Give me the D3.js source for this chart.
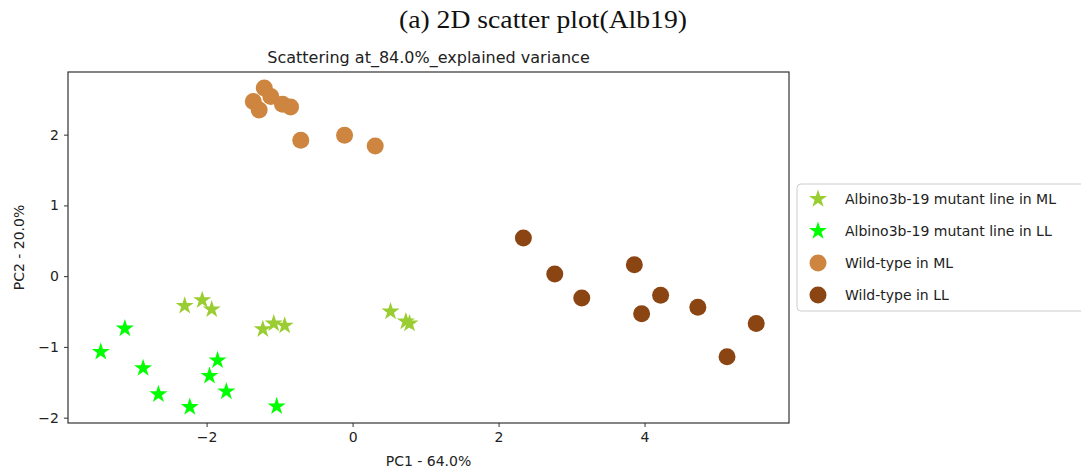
<!DOCTYPE html>
<html>
<head>
<meta charset="utf-8">
<script src="https://cdn.jsdelivr.net/npm/d3@7"></script>
<style>
  html, body { margin: 0; padding: 0; background: #fff; }
  svg { display: block; }
</style>
</head>
<body>
<svg id="chart" width="1081" height="472"></svg>
<script>
// PCA scores per group: [PC1, PC2]
const albinoML = [
  [-2.30, -0.42], [-2.06, -0.34], [-1.93, -0.47], [-1.23, -0.75], [-1.08, -0.67],
  [-0.93, -0.70], [0.52, -0.50], [0.73, -0.64], [0.78, -0.67]
];
const albinoLL = [
  [-3.12, -0.74], [-3.45, -1.07], [-2.87, -1.30], [-2.66, -1.67], [-2.23, -1.85],
  [-1.85, -1.19], [-1.96, -1.41], [-1.73, -1.63], [-1.04, -1.84]
];
const wildML = [
  [-1.36, 2.47], [-1.21, 2.66], [-1.12, 2.54], [-1.28, 2.35], [-0.96, 2.43],
  [-0.85, 2.39], [-0.71, 1.92], [-0.11, 1.99], [0.31, 1.84]
];
const wildLL = [
  [2.34, 0.54], [2.77, 0.03], [3.14, -0.31], [3.86, 0.16], [3.96, -0.53],
  [4.22, -0.27], [4.73, -0.44], [5.13, -1.14], [5.53, -0.67]
];
const seriesNames = [
  "Albino3b-19 mutant line in ML",
  "Albino3b-19 mutant line in LL",
  "Wild-type in ML",
  "Wild-type in LL"
];
const xTicks = [-2, 0, 2, 4];
const yTicks = [-2, -1, 0, 1, 2];

const series = [
  { name: seriesNames[0], data: albinoML, color: "#9acd32", shape: "star" },
  { name: seriesNames[1], data: albinoLL, color: "#00ff00", shape: "star" },
  { name: seriesNames[2], data: wildML, color: "#cd853f", shape: "circle" },
  { name: seriesNames[3], data: wildLL, color: "#8b4513", shape: "circle" }
];

const svg = d3.select("#chart");
const plot = { left: 68, right: 789, top: 72, bottom: 423 };

// matplotlib-style 5% padding around the data extent
const all = series.flatMap(s => s.data);
const xe = d3.extent(all, d => d[0]);
const ye = d3.extent(all, d => d[1]);
const xp = (xe[1] - xe[0]) * 0.05, yp = (ye[1] - ye[0]) * 0.05;
const x = d3.scaleLinear().domain([xe[0] - xp, xe[1] + xp]).range([plot.left, plot.right]);
const y = d3.scaleLinear().domain([ye[0] - yp, ye[1] + yp]).range([plot.bottom, plot.top]);

// five-pointed star path, outer radius R
function starPath(R) {
  const r = R * 0.381966;
  const pts = [];
  for (let i = 0; i < 10; i++) {
    const a = -Math.PI / 2 + i * Math.PI / 5;
    const rad = i % 2 === 0 ? R : r;
    pts.push([rad * Math.cos(a), rad * Math.sin(a)]);
  }
  return "M" + pts.map(p => p[0].toFixed(2) + "," + p[1].toFixed(2)).join("L") + "Z";
}
const STAR = starPath(9.5);
const CR = 8.5;

// figure caption
svg.append("text")
  .attr("x", 399).attr("y", 28)
  .attr("font-family", "'Liberation Serif', 'DejaVu Serif', serif")
  .attr("font-size", 26)
  .attr("textLength", 288)
  .attr("lengthAdjust", "spacingAndGlyphs")
  .attr("fill", "#111")
  .text("(a) 2D scatter plot(Alb19)");

// axes title
svg.append("text")
  .attr("x", (plot.left + plot.right) / 2).attr("y", 63)
  .attr("text-anchor", "middle")
  .attr("font-family", "'DejaVu Sans', sans-serif")
  .attr("font-size", 16)
  .attr("fill", "#222")
  .text("Scattering at_84.0%_explained variance");

// markers
series.forEach(s => {
  const g = svg.append("g");
  if (s.shape === "star") {
    g.selectAll("path").data(s.data).join("path")
      .attr("d", STAR)
      .attr("transform", d => `translate(${x(d[0])},${y(d[1])})`)
      .attr("fill", s.color);
  } else {
    g.selectAll("circle").data(s.data).join("circle")
      .attr("cx", d => x(d[0])).attr("cy", d => y(d[1]))
      .attr("r", CR)
      .attr("fill", s.color);
  }
});

// axes
const xAxis = svg.append("g")
  .attr("transform", `translate(0,${plot.bottom})`)
  .call(d3.axisBottom(x).tickValues(xTicks).tickFormat(d => d < 0 ? "\u2212" + Math.abs(d) : d).tickSizeOuter(0).tickSize(4).tickPadding(5));
const yAxis = svg.append("g")
  .attr("transform", `translate(${plot.left},0)`)
  .call(d3.axisLeft(y).tickValues(yTicks).tickFormat(d => d < 0 ? "\u2212" + Math.abs(d) : d).tickSizeOuter(0).tickSize(4).tickPadding(5));
[xAxis, yAxis].forEach(a => {
  a.select(".domain").remove();
  a.selectAll("line").attr("stroke", "#333");
  a.selectAll("text")
    .attr("font-family", "'DejaVu Sans', sans-serif")
    .attr("font-size", 14)
    .attr("fill", "#222");
});

// frame
svg.append("rect")
  .attr("x", plot.left).attr("y", plot.top)
  .attr("width", plot.right - plot.left).attr("height", plot.bottom - plot.top)
  .attr("fill", "none").attr("stroke", "#333").attr("stroke-width", 1.2);

// axis labels
svg.append("text")
  .attr("x", (plot.left + plot.right) / 2).attr("y", 466)
  .attr("text-anchor", "middle")
  .attr("font-family", "'DejaVu Sans', sans-serif")
  .attr("font-size", 14)
  .attr("fill", "#222")
  .text("PC1 - 64.0%");
svg.append("text")
  .attr("transform", `translate(24,${(plot.top + plot.bottom) / 2}) rotate(-90)`)
  .attr("text-anchor", "middle")
  .attr("font-family", "'DejaVu Sans', sans-serif")
  .attr("font-size", 14)
  .attr("fill", "#222")
  .text("PC2 - 20.0%");

// legend
const lg = svg.append("g");
lg.append("rect")
  .attr("x", 797).attr("y", 184)
  .attr("width", 300).attr("height", 127)
  .attr("rx", 4)
  .attr("fill", "#fff")
  .attr("stroke", "#ccc");
series.forEach((s, i) => {
  const cy = 199 + i * 32;
  if (s.shape === "star") {
    lg.append("path").attr("d", STAR).attr("transform", `translate(818,${cy})`).attr("fill", s.color);
  } else {
    lg.append("circle").attr("cx", 818).attr("cy", cy).attr("r", CR).attr("fill", s.color);
  }
  lg.append("text")
    .attr("x", 845).attr("y", cy + 5)
    .attr("font-family", "'DejaVu Sans', sans-serif")
    .attr("font-size", 14)
    .attr("fill", "#222")
    .text(s.name);
});
</script>
</body>
</html>
